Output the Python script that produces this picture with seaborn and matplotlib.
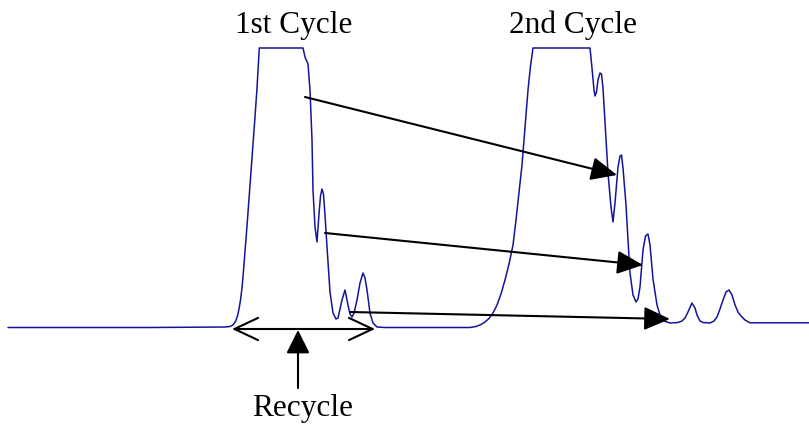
import pandas as pd
import matplotlib
matplotlib.use("Agg")
import matplotlib.pyplot as plt
import seaborn as sns

sns.set_theme(style="white")
plt.rcParams['font.family'] = ['Liberation Serif', 'DejaVu Serif']

# Trace: x position and pixel row of the line
trace_x = [8, 150, 225, 230, 233, 235.5, 237.5, 239, 240.5, 242, 243, 245, 247, 249,
           251, 253, 255, 257, 258, 259, 259.3,
           303, 305, 308, 310, 312, 313, 315, 317, 319, 320.5, 322, 323.5, 325, 327,
           330, 333, 336, 338, 340, 342, 345, 348, 350, 352, 354, 357, 360, 363, 365,
           367, 370, 373, 377, 385,
           470, 476, 481, 485, 489, 493, 497, 501, 505, 509, 513, 516, 519, 522, 525,
           528, 530.5, 533,
           590, 592, 594, 595, 596.5, 598, 600, 601.5, 603, 605, 608, 611,
           613, 615, 618, 620, 621.5, 623, 626, 628, 630, 633, 636, 638, 640, 643,
           645.5, 648, 650, 653, 657, 660, 664, 670, 678, 682, 685, 688, 692, 695,
           697, 700, 703, 710, 714, 717, 720, 723, 726, 729, 732, 735, 738, 741, 745,
           750, 809]
trace_py = [327.5, 327.5, 327, 326.5, 325, 321.5, 316, 309, 300, 288, 277, 252, 226, 199,
            171, 144, 117, 88, 70, 52, 48,
            48, 57, 64, 90, 140, 190, 227, 242, 214, 196, 189, 194, 215, 247,
            292, 313, 319, 318, 309, 300, 290, 305, 314, 317, 313, 300, 283, 273, 278,
            290, 313, 323, 327, 327.5,
            327.5, 326.5, 324.5, 322, 318.5, 313, 305, 294, 280, 264, 245, 220, 193, 165, 128,
            90, 66, 48,
            48, 68, 90, 96, 92, 80, 73, 74, 88, 122, 173, 207,
            222, 203, 167, 156, 155, 168, 205, 240, 273, 295, 302, 299, 287, 250,
            236, 234, 245, 279, 305, 315, 321, 323, 322.5, 321, 318, 312, 303, 308,
            315, 321, 322.5, 323, 321, 317, 309, 300, 292, 290, 295, 305, 312, 316, 320,
            322.8, 322.8]

H = 424
trace = pd.DataFrame({'x': trace_x, 'signal': [H - p for p in trace_py]})

# Annotation arrows (start, end) in the same pixel units
shift_starts = [(305, 97), (325, 233), (350, 312)]
shift_ends = [(617, 175), (643, 265), (670, 319)]
recycle_span = (232, 375, 329)
labels = ['1st Cycle', '2nd Cycle']
label_x = [293.5, 573.5]

fig = plt.figure(figsize=(8.09, 4.24), dpi=100)
ax = fig.add_axes([0, 0, 1, 1])

sns.lineplot(data=trace, x='x', y='signal', sort=False, color='#14149a',
             linewidth=1.1, ax=ax)

for (x0, y0), (x1, y1) in zip(shift_starts, shift_ends):
    ax.annotate('', xy=(x1, H - y1), xytext=(x0, H - y0),
                arrowprops=dict(arrowstyle='-|>,head_length=0.8,head_width=0.36',
                                mutation_scale=20, color='black', lw=1.5,
                                shrinkA=0, shrinkB=0))

left, right, ry = recycle_span
ax.annotate('', xy=(right, H - ry), xytext=(left, H - ry),
            arrowprops=dict(arrowstyle='<->,head_length=0.85,head_width=0.4',
                            mutation_scale=20, color='black', lw=1.5,
                            shrinkA=0, shrinkB=0))
ax.annotate('', xy=(298, H - 330), xytext=(298, H - 388),
            arrowprops=dict(arrowstyle='-|>,head_length=0.72,head_width=0.36',
                            mutation_scale=20, color='black', lw=1.5,
                            shrinkA=0, shrinkB=0))

for lab, lx in zip(labels, label_x):
    ax.text(lx, H - 33, lab, ha='center', va='baseline', fontsize=22.5, color='black')
ax.text(303, H - 416, 'Recycle', ha='center', va='baseline', fontsize=22.5, color='black')

ax.set_xlim(0, 809)
ax.set_ylim(0, H)
ax.set_axis_off()

plt.savefig('out.png', dpi=100)
plt.close()
